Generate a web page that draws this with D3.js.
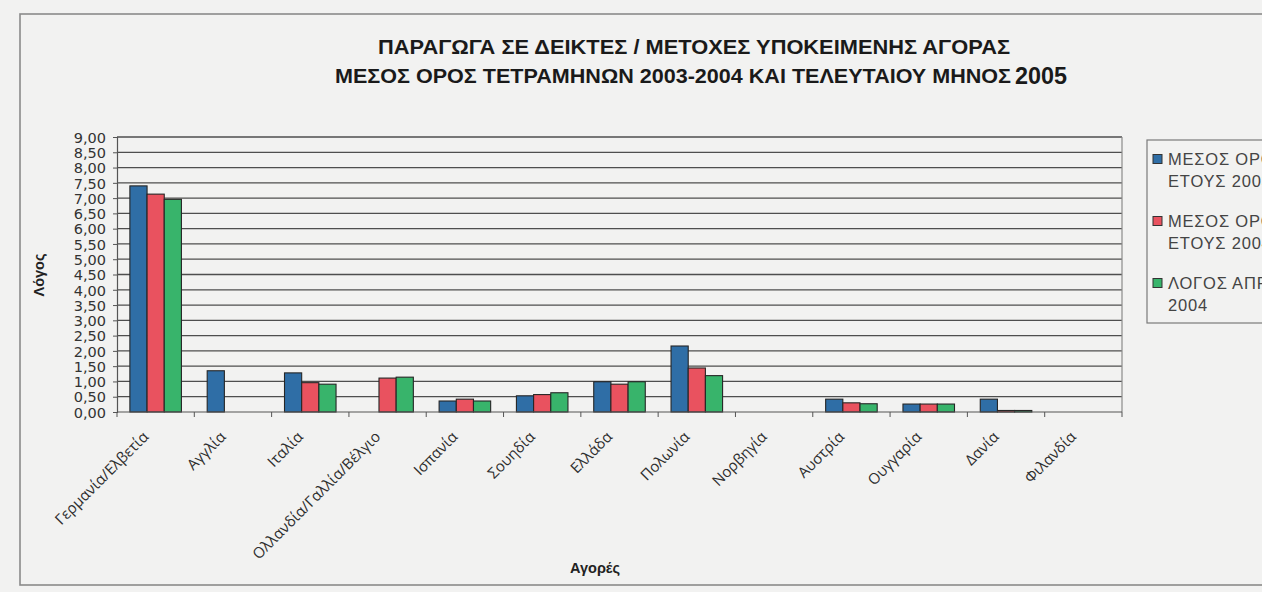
<!DOCTYPE html>
<html>
<head>
<meta charset="utf-8">
<script src="https://cdn.jsdelivr.net/npm/d3@7/dist/d3.min.js"></script>
<style>
  html, body { margin: 0; padding: 0; background: #ffffff; }
  svg { display: block; }
</style>
</head>
<body>
<svg id="chart" width="1270" height="592"></svg>
<script>
// Markets (x categories)
const categories = [
  "Γερμανία/Ελβετία", "Αγγλία", "Ιταλία", "Ολλανδία/Γαλλία/Βέλγιο", "Ισπανία",
  "Σουηδία", "Ελλάδα", "Πολωνία", "Νορβηγία", "Αυστρία", "Ουγγαρία", "Δανία", "Φιλανδία"
];
// Series values (ratio); null = no bar
const avg2003 = [7.40, 1.35, 1.28, null, 0.36, 0.53, 0.99, 2.16, null, 0.42, 0.26, 0.42, null];
const avg2004 = [7.13, null, 0.96, 1.11, 0.42, 0.57, 0.91, 1.44, null, 0.30, 0.26, 0.05, null];
const ratioApr = [6.96, null, 0.91, 1.14, 0.36, 0.63, 0.99, 1.19, null, 0.27, 0.26, 0.05, null];

const seriesNames = ["ΜΕΣΟΣ ΟΡΟΣ ΕΤΟΥΣ 2003", "ΜΕΣΟΣ ΟΡΟΣ ΕΤΟΥΣ 2004", "ΛΟΓΟΣ ΑΠΡΙΛΙΟΥ 2005 / 2004"];
const legendLines = [["ΜΕΣΟΣ ΟΡΟΣ", "ΕΤΟΥΣ 2003"], ["ΜΕΣΟΣ ΟΡΟΣ", "ΕΤΟΥΣ 2004"], ["ΛΟΓΟΣ ΑΠΡΙΛΙΟΥ 2005 /", "2004"]];
const seriesColors = ["#2f6ea6", "#e9525f", "#38b46b"];

const yTickValues = [0, 0.5, 1, 1.5, 2, 2.5, 3, 3.5, 4, 4.5, 5, 5.5, 6, 6.5, 7, 7.5, 8, 8.5, 9];

const titleLine1 = "ΠΑΡΑΓΩΓΑ ΣΕ ΔΕΙΚΤΕΣ / ΜΕΤΟΧΕΣ ΥΠΟΚΕΙΜΕΝΗΣ ΑΓΟΡΑΣ";
const titleLine2 = "ΜΕΣΟΣ ΟΡΟΣ ΤΕΤΡΑΜΗΝΩΝ 2003-2004 ΚΑΙ ΤΕΛΕΥΤΑΙΟΥ ΜΗΝΟΣ";
const titleYear = "2005";
const xTitle = "Αγορές";
const yTitle = "Λόγος";

const W = 1270, H = 592;
const plot = { left: 117, right: 1122, top: 137, bottom: 412 };

const svg = d3.select("#chart");

// clip everything to the printed page area
svg.append("defs").append("clipPath").attr("id", "page")
  .append("rect").attr("x", 0).attr("y", 0).attr("width", 1262).attr("height", H);

const page = svg.append("g").attr("clip-path", "url(#page)");
page.append("rect").attr("x", 0).attr("y", 0).attr("width", 1262).attr("height", H).attr("fill", "#f2f2f1");

// outer chart frame
page.append("rect").attr("x", 20).attr("y", 14).attr("width", 1300).attr("height", 571)
  .attr("fill", "none").attr("stroke", "#8a8a8a").attr("stroke-width", 1.6);

// scales
const x0 = d3.scaleBand().domain(categories).range([plot.left, plot.right]).padding(0);
const x1 = d3.scaleBand().domain(d3.range(3)).range([0, x0.bandwidth()]).paddingInner(0).paddingOuter(0.75);
const y = d3.scaleLinear().domain([0, 9]).range([plot.bottom, plot.top]);

// horizontal gridlines
page.append("g").selectAll("line").data(yTickValues.filter(v => v > 0)).join("line")
  .attr("x1", plot.left).attr("x2", plot.right)
  .attr("y1", d => y(d)).attr("y2", d => y(d))
  .attr("stroke", "#4e4e4e").attr("stroke-width", 1.3);

// right border of plot area
page.append("line").attr("x1", plot.right).attr("x2", plot.right)
  .attr("y1", plot.top).attr("y2", plot.bottom)
  .attr("stroke", "#8a8a8a").attr("stroke-width", 1.2);

// bars
const series = [avg2003, avg2004, ratioApr];
const barData = [];
series.forEach((vals, si) => vals.forEach((v, ci) => {
  if (v != null) barData.push({ cat: categories[ci], s: si, v });
}));
page.append("g").selectAll("rect").data(barData).join("rect")
  .attr("x", d => x0(d.cat) + x1(d.s))
  .attr("width", x1.bandwidth())
  .attr("y", d => y(d.v))
  .attr("height", d => y(0) - y(d.v))
  .attr("fill", d => seriesColors[d.s])
  .attr("stroke", "#262626").attr("stroke-width", 1.1);

// y axis
const fmt = d3.format(".2f");
const yAxis = page.append("g").attr("transform", `translate(${plot.left},0)`)
  .call(d3.axisLeft(y).tickValues(yTickValues).tickSize(4).tickPadding(7)
    .tickFormat(d => fmt(d).replace(".", ",")));
yAxis.select(".domain").attr("stroke", "#555").attr("stroke-width", 1.2);
yAxis.selectAll(".tick line").attr("stroke", "#555");
yAxis.selectAll(".tick text")
  .attr("font-family", "'DejaVu Sans', sans-serif").attr("font-size", 14.5)
  .attr("fill", "#333").attr("dy", "0.36em");

// x axis line and category boundary ticks
page.append("line").attr("x1", plot.left).attr("x2", plot.right)
  .attr("y1", plot.bottom).attr("y2", plot.bottom)
  .attr("stroke", "#555").attr("stroke-width", 1.2);
const bounds = categories.map(c => x0(c)).concat([plot.right]);
page.append("g").selectAll("line").data(bounds).join("line")
  .attr("x1", d => d).attr("x2", d => d)
  .attr("y1", plot.bottom).attr("y2", plot.bottom + 5)
  .attr("stroke", "#555").attr("stroke-width", 1);

// category labels, rotated
page.append("g").selectAll("text").data(categories).join("text")
  .attr("transform", d => `translate(${x0(d) + x0.bandwidth() / 2 - 10},${plot.bottom + 22}) rotate(-45)`)
  .attr("text-anchor", "end").attr("dy", "0.35em")
  .attr("font-family", "'Open Sans', sans-serif").attr("font-size", 15)
  .attr("fill", "#2e2e2e")
  .text(d => d);

// axis titles
page.append("text").attr("x", 595).attr("y", 573).attr("text-anchor", "middle")
  .attr("font-family", "'Liberation Sans', Arial, sans-serif").attr("font-weight", "bold")
  .attr("font-size", 14.5).attr("fill", "#222").text(xTitle);
page.append("text").attr("transform", "translate(44,275) rotate(-90)").attr("text-anchor", "middle")
  .attr("font-family", "'Liberation Sans', Arial, sans-serif").attr("font-weight", "bold")
  .attr("font-size", 14.5).attr("fill", "#222").text(yTitle);

// title (condensed bold)
const tFont = "'Liberation Sans', Arial, sans-serif";
page.append("text").attr("x", 378).attr("y", 54)
  .attr("font-family", tFont).attr("font-weight", "bold").attr("font-size", 21).attr("fill", "#1a1a1a")
  .attr("textLength", 632).attr("lengthAdjust", "spacingAndGlyphs").text(titleLine1);
page.append("text").attr("x", 335).attr("y", 83)
  .attr("font-family", tFont).attr("font-weight", "bold").attr("font-size", 21).attr("fill", "#1a1a1a")
  .attr("textLength", 676).attr("lengthAdjust", "spacingAndGlyphs").text(titleLine2);
page.append("text").attr("x", 1015).attr("y", 84)
  .attr("font-family", tFont).attr("font-weight", "bold").attr("font-size", 23).attr("fill", "#1a1a1a")
  .attr("textLength", 52).attr("lengthAdjust", "spacingAndGlyphs").text(titleYear);

// legend
const lg = page.append("g");
lg.append("rect").attr("x", 1147).attr("y", 140).attr("width", 200).attr("height", 183)
  .attr("fill", "none").attr("stroke", "#7a7a7a").attr("stroke-width", 1.2);
const items = lg.selectAll("g.item").data(seriesNames).join("g").attr("class", "item")
  .attr("transform", (d, i) => `translate(1153,${159 + i * 62})`);
items.append("rect").attr("x", 0).attr("y", -4.5).attr("width", 9).attr("height", 9)
  .attr("fill", (d, i) => seriesColors[i]).attr("stroke", "#333").attr("stroke-width", 1);
items.each(function (d, i) {
  const t = d3.select(this).append("text")
    .attr("font-family", "'Liberation Sans', Arial, sans-serif").attr("font-size", 16.5)
    .attr("letter-spacing", 0.8).attr("fill", "#444");
  legendLines[i].forEach((ln, k) => {
    t.append("tspan").attr("x", 15).attr("y", k * 22).attr("dy", "0.36em").text(ln);
  });
});
</script>
</body>
</html>
